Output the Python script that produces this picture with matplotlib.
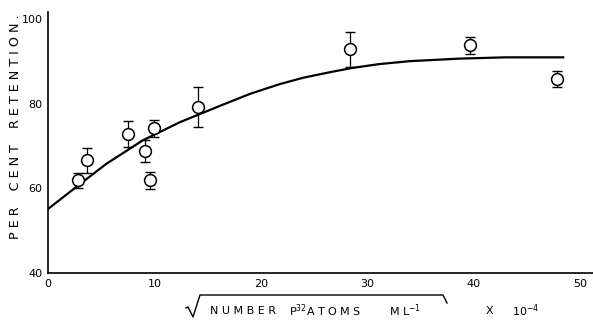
import matplotlib
matplotlib.use("Agg")
import matplotlib.pyplot as plt
from matplotlib.lines import Line2D

# data
x_pts = [2.8, 3.7, 7.5, 9.1, 9.6, 10.0, 14.1, 28.4, 39.6, 47.8]
y_pts = [61.9, 66.6, 72.8, 68.8, 61.9, 74.2, 79.2, 92.8, 93.8, 85.8]
y_err = [1.8, 3.0, 3.0, 2.6, 2.0, 2.0, 4.7, 4.1, 2.0, 1.8]

curve_x = [0, 2.7, 5.5, 8.9, 12.4, 16.2, 19.0, 21.8, 24.0, 26.5, 28.6, 31.1, 34.0, 38.7, 43.0, 48.4]
curve_y = [55.1, 60.4, 65.8, 71.3, 75.6, 79.5, 82.3, 84.6, 86.1, 87.4, 88.4, 89.3, 90.0, 90.6, 90.9, 90.9]

x_ticks = [0, 10, 20, 30, 40, 50]
y_ticks = [40, 60, 80, 100]

W, H = 593, 321
fig = plt.figure(figsize=(W / 100, H / 100), dpi=100)
ax = fig.add_axes([48 / W, (H - 273) / H, (W - 48) / W, (273 - 12) / H])

ax.plot(curve_x, curve_y, color="black", lw=1.6, zorder=2,
        solid_joinstyle="round")
ax.errorbar(x_pts, y_pts, yerr=y_err, fmt="none", ecolor="black",
            elinewidth=0.9, capsize=3.5, capthick=1.0, zorder=3)
ax.plot(x_pts, y_pts, "o", ms=8.5, mfc="white", mec="black", mew=1.1,
        zorder=4, ls="none")

ax.set_xlim(0, 51.2)
ax.set_ylim(40, 101.6)
ax.set_xticks(x_ticks)
ax.set_yticks(y_ticks)
ax.tick_params(length=0, labelsize=8, pad=4)
for s in ("top", "right"):
    ax.spines[s].set_visible(False)
for s in ("left", "bottom"):
    ax.spines[s].set_linewidth(1.2)

fig.text(16 / W, 1 - 127 / H, "P E R    C E N T    R E T E N T I O N .",
         rotation=90, ha="center", va="center", fontsize=9.2)

# x-axis label with radical sign
fig.text(210 / W, 1 - 311 / H, "N U M B E R", ha="left", va="center", fontsize=8)
fig.text(289 / W, 1 - 311 / H, r"P$^{32}$A T O M S", ha="left", va="center", fontsize=8)
fig.text(389 / W, 1 - 311 / H, r"M L$^{-1}$", ha="left", va="center", fontsize=8)
fig.text(486 / W, 1 - 311 / H, "X", ha="left", va="center", fontsize=8)
fig.text(512 / W, 1 - 311 / H, r"10$^{-4}$", ha="left", va="center", fontsize=8)
rx = [186, 188, 193, 200, 443, 447]
ry = [308, 307, 317, 295, 295, 303]
fig.add_artist(Line2D([v / W for v in rx], [1 - v / H for v in ry],
                      color="black", lw=1.0, transform=fig.transFigure))

fig.savefig("out.png", dpi=100)
